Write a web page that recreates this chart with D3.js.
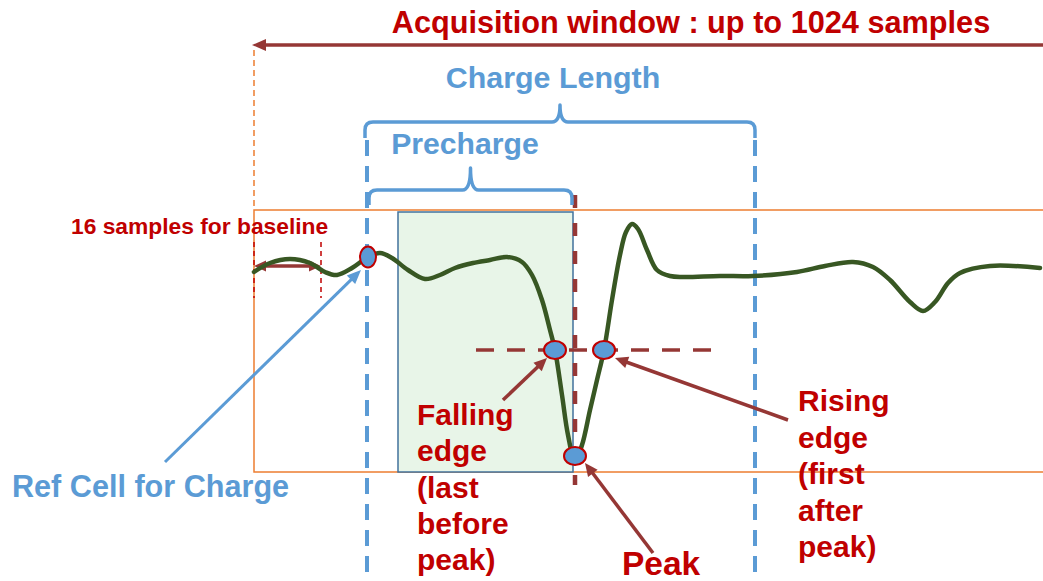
<!DOCTYPE html>
<html><head><meta charset="utf-8">
<script src="https://cdn.jsdelivr.net/npm/d3@7"></script>
<style>
body{margin:0;background:#fff}
svg{display:block}
text{font-family:"Liberation Sans",Arial,sans-serif;font-weight:bold}
</style>
</head><body>
<svg id="c" width="1043" height="581"></svg>
<script>
// ---- data (samples / amplitude units) ----
const waveSample = [0,4,9,14,17.75,20.75,24.5,28.5,31.5,34.5,38.5,42.75,46.5,50.25,54.75,59,63.25,67,69.5,72,74,75.25,77,78.5,80.25,82,84,85.75,87.5,89.5,91.5,93,94.5,96,98.25,100.75,104,107.25,116.5,124.75,135.75,142.75,149.75,154.75,159,164,167.25,170.25,173.5,176.5,184,196.5];
const waveAmp    = [0,4.5,6.5,4.5,0,-1.5,2,7.5,9.5,7,1,-3.5,-1.5,2,4.5,6,7.5,5,-1.5,-14,-29,-39,-61.5,-81.5,-94.5,-86.5,-69,-54,-39,-14,8.5,20,24,21.5,11,1,-2,-2.5,-2,-2,0,3,5,2.5,-4,-15,-19.5,-15,-5.5,-0.5,3,2];
const markerNames  = ["Ref Cell","Falling edge","Peak","Rising edge"];
const markerSample = [28.5, 75.25, 80.25, 87.5];
const markerAmp    = [7.5, -39, -92, -39];
const thresholdAmp = -39;
const thresholdRange = [55.5, 114.5];
const baselineWindow = [0, 16.75];
const chargeWindow = [28.25, 125.25];
const prechargeWindow = [28.75, 79.5];
const integrationWindow = [36, 79.75];
const integrationAmp = [-100, 30];
const peakSample = 80.25;
const sampleDomain = [0, 200];
const ampDomain = [-100, 31];
const labels = {
  title: "Acquisition window : up to 1024 samples",
  charge: "Charge Length",
  precharge: "Precharge",
  baseline: "16 samples for baseline",
  ref: "Ref Cell for Charge",
  falling: ["Falling","edge","(last","before","peak)"],
  rising: ["Rising","edge","(first","after","peak)"],
  peak: "Peak"
};

// ---- colours ----
const RED = "#C00000", BRICK = "#953735", BLUE = "#5B9BD5", ORANGE = "#ED7D31", GREEN = "#385723";

const svg = d3.select("#c");
const x = d3.scaleLinear().domain(sampleDomain).range([254, 1054]);
const y = d3.scaleLinear().domain(ampDomain).range([472, 210]);

function arrow(g, x1, y1, x2, y2, color, w, hl, hw, both) {
  const a = Math.atan2(y2 - y1, x2 - x1);
  const cx = Math.cos(a), sy = Math.sin(a);
  const sx1 = both ? x1 + cx * hl * 0.8 : x1, sy1 = both ? y1 + sy * hl * 0.8 : y1;
  g.append("line").attr("x1", sx1).attr("y1", sy1)
    .attr("x2", x2 - cx * hl * 0.8).attr("y2", y2 - sy * hl * 0.8)
    .attr("stroke", color).attr("stroke-width", w);
  const head = (tx, ty, dx, dy) => {
    const bx = tx - dx * hl, by = ty - dy * hl;
    g.append("polygon").attr("fill", color)
      .attr("points", [[tx, ty], [bx - dy * hw, by + dx * hw], [bx + dy * hw, by - dx * hw]].map(p => p.join(",")).join(" "));
  };
  head(x2, y2, cx, sy);
  if (both) head(x1, y1, -cx, -sy);
}

function brace(g, x1, x2, yy, yc, ye, r) {
  const xc = (x1 + x2) / 2;
  const d = `M${x1},${ye} L${x1},${yy + r} Q${x1},${yy} ${x1 + r},${yy} L${xc - r},${yy} Q${xc},${yy} ${xc},${yc} Q${xc},${yy} ${xc + r},${yy} L${x2 - r},${yy} Q${x2},${yy} ${x2},${yy + r} L${x2},${ye}`;
  g.append("path").attr("d", d).attr("fill", "none").attr("stroke", BLUE).attr("stroke-width", 3.5).attr("stroke-linejoin", "round");
}

// orange acquisition box
svg.append("rect").attr("x", x(sampleDomain[0])).attr("y", y(ampDomain[1]))
  .attr("width", x(sampleDomain[1]) - x(sampleDomain[0])).attr("height", y(ampDomain[0]) - y(ampDomain[1]))
  .attr("fill", "none").attr("stroke", ORANGE).attr("stroke-width", 1.5);

// integration (green) box
svg.append("rect").attr("x", x(integrationWindow[0])).attr("y", y(integrationAmp[1]))
  .attr("width", x(integrationWindow[1]) - x(integrationWindow[0])).attr("height", y(integrationAmp[0]) - y(integrationAmp[1]))
  .attr("fill", "#E8F5E8").attr("stroke", "#41719C").attr("stroke-width", 1.5);

// orange dashed start line
svg.append("line").attr("x1", x(0)).attr("x2", x(0)).attr("y1", 50).attr("y2", y(ampDomain[1]))
  .attr("stroke", ORANGE).attr("stroke-width", 1.5).attr("stroke-dasharray", "6,4");

// blue dashed charge window limits
chargeWindow.forEach(s => {
  svg.append("line").attr("x1", x(s)).attr("x2", x(s)).attr("y1", 140).attr("y2", 581)
    .attr("stroke", BLUE).attr("stroke-width", 4).attr("stroke-dasharray", "16,10");
});

// dark red peak vertical
svg.append("line").attr("x1", x(peakSample)).attr("x2", x(peakSample)).attr("y1", 195).attr("y2", 485)
  .attr("stroke", BRICK).attr("stroke-width", 4.5).attr("stroke-dasharray", "13,15");

// threshold dashed line
svg.append("line").attr("x1", x(thresholdRange[0])).attr("x2", x(thresholdRange[1]))
  .attr("y1", y(thresholdAmp)).attr("y2", y(thresholdAmp))
  .attr("stroke", BRICK).attr("stroke-width", 3.5).attr("stroke-dasharray", "18,13");

// baseline window
baselineWindow.forEach(s => {
  svg.append("line").attr("x1", x(s)).attr("x2", x(s)).attr("y1", 242).attr("y2", 298)
    .attr("stroke", RED).attr("stroke-width", 1.5).attr("stroke-dasharray", "5,4");
});
arrow(svg, x(baselineWindow[0]), 266, x(baselineWindow[1]), 266, BRICK, 3.5, 12, 5.5, true);

// braces
brace(svg, x(chargeWindow[0]) - 2, x(chargeWindow[1]), 122, 105, 138, 8);
brace(svg, x(prechargeWindow[0]), x(prechargeWindow[1]), 190, 168, 205, 8);

// waveform
const pts = waveSample.map((s, i) => [x(s), y(waveAmp[i])]);
svg.append("path").attr("d", d3.line().curve(d3.curveCatmullRom.alpha(0.5))(pts))
  .attr("fill", "none").attr("stroke", GREEN).attr("stroke-width", 4.5).attr("stroke-linecap", "round");

// markers
markerNames.forEach((n, i) => {
  const vert = i === 0;
  svg.append("ellipse").attr("cx", x(markerSample[i])).attr("cy", y(markerAmp[i]))
    .attr("rx", vert ? 8 : 11).attr("ry", vert ? 10.5 : 9)
    .attr("fill", BLUE).attr("stroke", RED).attr("stroke-width", 2);
});

// title arrow
arrow(svg, 1060, 45, x(0) - 2, 45, BRICK, 3.5, 14, 6, false);

// annotation arrows
arrow(svg, 165, 462, x(markerSample[0]) - 7, y(markerAmp[0]) + 13, BLUE, 3, 14, 6, false);
arrow(svg, 503, 400, x(markerSample[1]) - 8, y(markerAmp[1]) + 8, BRICK, 3.5, 13, 6, false);
arrow(svg, 788, 420, x(markerSample[3]) + 11, y(markerAmp[3]) + 8, BRICK, 3.5, 13, 6, false);
arrow(svg, 653, 553, x(markerSample[2]) + 10, y(markerAmp[2]) + 7, BRICK, 3.5, 13, 6, false);

// texts
const t = (s, px, py, size, color, anchor) => svg.append("text").attr("x", px).attr("y", py)
  .attr("font-size", size).attr("fill", color).attr("text-anchor", anchor || "start").text(s);
t(labels.title, 691, 33, 30.7, RED, "middle");
t(labels.charge, 553, 88, 30.4, BLUE, "middle");
t(labels.precharge, 465, 154, 30.2, BLUE, "middle");
t(labels.baseline, 71, 234, 22.8, RED);
t(labels.ref, 12, 497, 30.6, BLUE);
labels.falling.forEach((s, i) => t(s, 417, 425 + i * 36.3, 30, RED));
labels.rising.forEach((s, i) => t(s, 798, 411 + i * 36.6, 30, RED));
t(labels.peak, 622, 575, 33.5, RED);
</script>
</body></html>
